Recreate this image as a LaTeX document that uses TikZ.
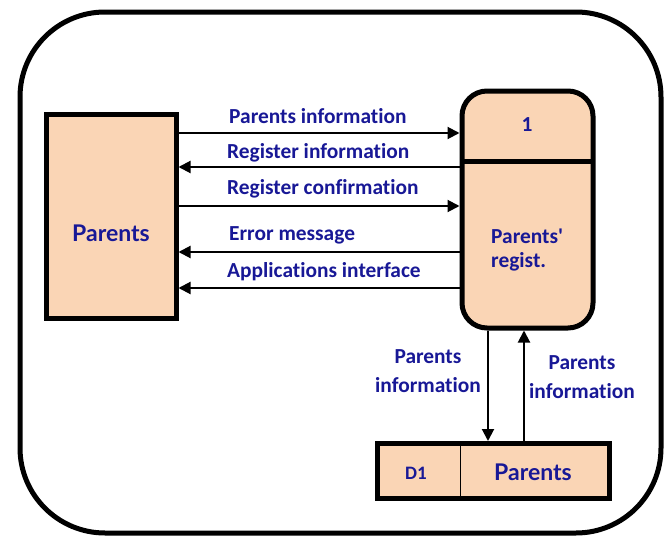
\documentclass[tikz,border=0pt]{standalone}
\usepackage{fontspec}
\setmainfont{Carlito}[Ligatures={TeX,NoCommon}]
\newfontfamily\entfont{Lato}
\usetikzlibrary{arrows.meta}
\definecolor{peach}{RGB}{250,213,181}
\definecolor{ink}{RGB}{24,24,150}
\tikzset{
  box/.style={draw=black, fill=peach, line width=5pt, inner sep=0pt},
  flow/.style={line width=2pt, -{Triangle[length=12pt,width=12pt]}},
  lbl/.style={text=ink, font=\fontsize{21.4}{24}\selectfont\bfseries, inner sep=0pt},
  ent/.style={text=ink, font=\fontsize{23}{26}\selectfont\entfont\bfseries, inner sep=0pt},
}
\begin{document}
\begin{tikzpicture}[x=1pt,y=-1pt]
\useasboundingbox (0,0) rectangle (670,538);
% outer frame
\draw[line width=5pt, rounded corners=85pt] (20,12) rectangle (661,533);

% external entity
\node[box, minimum width=130pt, minimum height=204pt] (ent) at (111,216) {};
\node[ent] (entlbl) at (111,233) {Parents};

% process
\node[box, rounded corners=25pt, minimum width=131pt, minimum height=237pt] (proc) at (527.5,209.5) {};
\coordinate (dl) at (462,161);
\coordinate (dr) at (593,161);
\draw[line width=5pt] (dl) -- (dr);
\node[lbl, anchor=base] (pnum) at (527,131) {1};
\node[lbl, anchor=base west] (pname1) at (491,243) {Parents\textquotesingle};
\node[lbl, anchor=base west] (pname2) at (491,267) {regist.};

% data store
\node[box, minimum width=232pt, minimum height=55pt] (store) at (493,471) {};
\coordinate (st) at (460,444);
\coordinate (sb) at (460,498);
\draw[line width=1pt] (st) -- (sb);
\node[text=ink, font=\fontsize{19}{22}\selectfont\bfseries, inner sep=0pt, anchor=base] (sid) at (416,479) {D1};
\node[ent] (sname) at (533,472) {Parents};

% flows between entity and process
\draw[flow] (ent.east |- 0,133) -- (proc.west |- 0,133);
\draw[flow] (proc.west |- 0,167) -- (ent.east |- 0,167);
\draw[flow] (ent.east |- 0,206) -- (proc.west |- 0,206);
\draw[flow] (proc.west |- 0,252) -- (ent.east |- 0,252);
\draw[flow] (proc.west |- 0,288) -- (ent.east |- 0,288);

\node[lbl, anchor=base west] (l1) at (229,123) {Parents information};
\node[lbl, anchor=base west] (l2) at (227,158) {Register information};
\node[lbl, anchor=base west] (l3) at (227,194) {Register confirmation};
\node[lbl, anchor=base west] (l4) at (229,240) {Error message};
\node[lbl, anchor=base west] (l5) at (227,277) {Applications interface};

% flows between process and store
\draw[flow] (proc.south -| 488,0) -- (store.north -| 488,0);
\draw[flow] (store.north -| 524,0) -- (proc.south -| 524,0);

\node[lbl, anchor=base] (l6a) at (428,363) {Parents};
\node[lbl, anchor=base] (l6b) at (428,392) {information};
\node[lbl, anchor=base] (l7a) at (582,369) {Parents};
\node[lbl, anchor=base] (l7b) at (582,398) {information};
\end{tikzpicture}
\end{document}
